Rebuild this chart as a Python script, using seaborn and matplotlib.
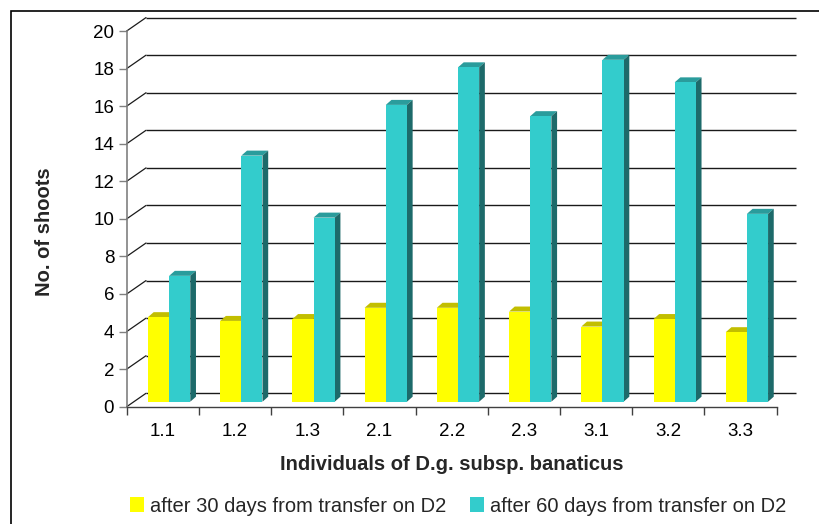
import numpy as np
import pandas as pd
import matplotlib
matplotlib.use("Agg")
import matplotlib.pyplot as plt
from matplotlib.patches import Polygon, Patch, Rectangle
import seaborn as sns

individuals = ["1.1", "1.2", "1.3", "2.1", "2.2", "2.3", "3.1", "3.2", "3.3"]
after_30 = [4.5, 4.3, 4.4, 5.0, 5.0, 4.8, 4.0, 4.4, 3.7]
after_60 = [6.7, 13.1, 9.8, 15.8, 17.8, 15.2, 18.2, 17.0, 10.0]
series_names = ["after 30 days from transfer on D2", "after 60 days from transfer on D2"]
y_ticks = list(range(0, 21, 2))

sns.set_theme(style="white")
plt.rcParams["font.family"] = ["Liberation Sans", "DejaVu Sans"]

W, H = 819, 524
fig = plt.figure(figsize=(W / 100, H / 100), dpi=100)
x0, x1 = 126.7, 776.7
y0, y1 = 406.7, 31.0
ax = fig.add_axes([x0 / W, (H - y0) / H, (x1 - x0) / W, (y0 - y1) / H])

df = pd.DataFrame({
    "ind": individuals * 2,
    "val": after_30 + after_60,
    "series": [series_names[0]] * len(individuals) + [series_names[1]] * len(individuals),
})

YEL, CYA = "#FFFF00", "#33CCCC"
face_cols = {YEL: ("#C2BE00", "#9A9700"), CYA: ("#2A9C9C", "#1D6A6A")}
sns.barplot(data=df, x="ind", y="val", hue="series", order=individuals,
            hue_order=series_names, palette=[YEL, CYA], saturation=1,
            width=0.586, dodge=True, legend=False, ax=ax, linewidth=0, zorder=3)

ax.set_xlim(-0.5, len(individuals) - 0.5)
ax.set_ylim(0, 20)
px_x = (x1 - x0) / len(individuals)
px_y = (y0 - y1) / 20.0

# 3D geometry (in data units)
wall_dx, wall_dy = 19.3 / px_x, 13.4 / px_y
shift_dx, shift_dy = 6.3 / px_x, 5.0 / px_y
depth_dx, depth_dy = 5.7 / px_x, 5.0 / px_y

bars = [p for p in ax.patches if isinstance(p, Rectangle) and p.get_width() > 0]
for i, p in enumerate(bars):
    col = matplotlib.colors.to_hex(p.get_facecolor())
    zo = 3 if col.lower() == YEL.lower() else 4
    p.set_x(p.get_x() + shift_dx)
    p.set_y(p.get_y() + shift_dy)
    p.set_zorder(zo + 0.2)
    p.set_clip_on(False)
    xl, w = p.get_x(), p.get_width()
    yb, h = p.get_y(), p.get_height()
    top_c, side_c = face_cols.get(col.upper(), ("#888888", "#555555"))
    top = Polygon([(xl, yb + h), (xl + w, yb + h), (xl + w + depth_dx, yb + h + depth_dy),
                   (xl + depth_dx, yb + h + depth_dy)], closed=True, facecolor=top_c,
                  edgecolor="none", zorder=zo, clip_on=False)
    side = Polygon([(xl + w, yb), (xl + w + depth_dx, yb + depth_dy),
                    (xl + w + depth_dx, yb + h + depth_dy), (xl + w, yb + h)], closed=True,
                   facecolor=side_c, edgecolor="none", zorder=zo, clip_on=False)
    ax.add_patch(top)
    ax.add_patch(side)

# back wall gridlines with diagonals
xa, xb = -0.5, len(individuals) - 0.5
for v in y_ticks:
    ax.plot([xa + wall_dx, xb + wall_dx], [v + wall_dy, v + wall_dy], color="#1a1a1a",
            lw=1.0, zorder=1, clip_on=False, solid_capstyle="butt")
    ax.plot([xa, xa + wall_dx], [v, v + wall_dy], color="#1a1a1a", lw=0.9, zorder=1,
            clip_on=False)

TICK_FS = 13.5
LAB_FS = 14.5
ax.set_yticks(y_ticks)
ax.set_yticklabels([str(v) for v in y_ticks], fontsize=TICK_FS, color="#000000")
ax.tick_params(axis="y", direction="out", length=6, width=1, color="#808080", pad=3, left=True)
ax.set_xticks(range(len(individuals)))
ax.set_xticklabels(individuals, fontsize=TICK_FS, color="#000000")
ax.set_xticks(np.arange(-0.5, len(individuals), 1.0), minor=True)
ax.tick_params(axis="x", which="major", length=0, pad=12)
ax.tick_params(axis="x", which="minor", direction="out", length=6, width=1,
               color="#404040", bottom=True)
ax.set_xlabel("")
ax.set_ylabel("")
for s in ["top", "right"]:
    ax.spines[s].set_visible(False)
ax.spines["left"].set_color("#808080")
ax.spines["left"].set_linewidth(1.2)
ax.spines["bottom"].set_color("#404040")
ax.spines["bottom"].set_linewidth(1.0)
ax.spines["left"].set_zorder(5)
ax.spines["bottom"].set_zorder(5)
ax.grid(False)
ax.patch.set_alpha(0)

fig.text(452 / W, 1 - 465 / H, "Individuals of D.g. subsp. banaticus", ha="center",
         va="center", fontsize=LAB_FS, fontweight="bold")
fig.text(45 / W, 1 - 232 / H, "No. of shoots", ha="center", va="center", rotation=90,
         fontsize=LAB_FS, fontweight="bold")

handles = [Patch(facecolor=YEL, edgecolor="none"), Patch(facecolor=CYA, edgecolor="none")]
fig.legend(handles, series_names, loc="center", bbox_to_anchor=(458 / W, 1 - 506 / H),
           ncol=2, frameon=False, fontsize=LAB_FS, handlelength=0.7, handleheight=0.7,
           handletextpad=0.3, columnspacing=1.2, borderaxespad=0, borderpad=0)

fig.patches.append(Rectangle((11 / W, -0.1), 1.2, 1 - 11 / H + 0.1, transform=fig.transFigure,
                             fill=False, edgecolor="black", lw=1.2, zorder=0))

fig.savefig("out.png", dpi=100)
